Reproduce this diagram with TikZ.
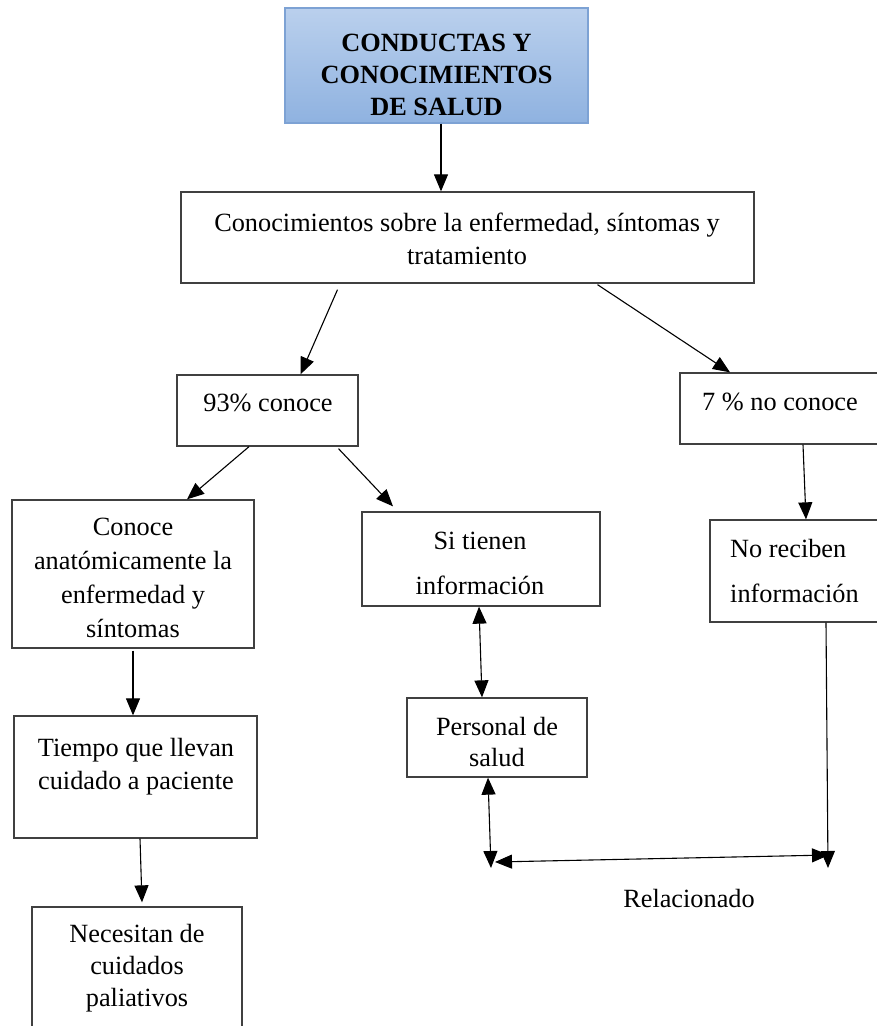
\documentclass[tikz,border=0pt]{standalone}
\usepackage{fontspec}
\setmainfont{Liberation Serif}
\usetikzlibrary{arrows.meta}
\definecolor{edge}{RGB}{64,64,64}
\definecolor{titletop}{RGB}{186,208,237}
\definecolor{titlebot}{RGB}{143,178,224}
\definecolor{titleedge}{RGB}{125,162,212}
\begin{document}
\begin{tikzpicture}[x=1pt,y=-1pt,
  box/.style={draw=edge,line width=1.3pt,inner sep=0pt,fill=white},
  txt/.style={inner sep=0pt,align=center,font=\fontsize{26.3}{#1}\selectfont},
  arr/.style={-{Triangle[length=17pt,width=14pt]},line width=1.1pt,draw=black},
  dbl/.style={{Triangle[length=17pt,width=14pt]}-{Triangle[length=17pt,width=14pt]},line width=1.1pt,draw=black}
]
\useasboundingbox (0,0) rectangle (876,1026);

% boxes
\node[draw=titleedge,line width=1.3pt,top color=titletop,bottom color=titlebot,
      minimum width=303pt,minimum height=115pt,inner sep=0pt] (T) at (436.5,65.5) {};
\node[box,minimum width=573pt,minimum height=91pt] (B2) at (467.5,237.5) {};
\node[box,minimum width=181pt,minimum height=71pt] (P93) at (267.5,410.5) {};
\node[box,minimum width=210pt,minimum height=71pt] (P7) at (785,408.5) {};
\node[box,minimum width=242pt,minimum height=148pt] (CA) at (133,574) {};
\node[box,minimum width=238pt,minimum height=94pt] (ST) at (481,559) {};
\node[box,minimum width=180pt,minimum height=102pt] (NR) at (800,571) {};
\node[box,minimum width=180pt,minimum height=79pt] (PS) at (497,737.5) {};
\node[box,minimum width=243pt,minimum height=122pt] (TQ) at (135.5,777) {};
\node[box,minimum width=210pt,minimum height=133pt] (NC) at (137,973.5) {};

% texts
\node[txt=32,font=\fontsize{26.3}{32}\selectfont\bfseries] (Tt) at (436.5,74.5)
  {CONDUCTAS Y\\CONOCIMIENTOS\\DE SALUD};
\node[txt=33] (B2t) at (467,239) {Conocimientos sobre la enfermedad, síntomas y\\tratamiento};
\node[txt=30] (P93t) at (268,403) {93\% conoce};
\node[txt=30] (P7t) at (780,402) {7 \% no conoce};
\node[txt=34] (CAt) at (133,578) {Conoce\\anatómicamente la\\enfermedad y\\síntomas};
\node[txt=45] (STt) at (480,563) {Si tienen\\información};
\node[txt=45,align=left,anchor=west] (NRt) at (730,571) {No reciben\\información};
\node[txt=31] (PSt) at (497,742) {Personal de\\salud};
\node[txt=33] (TQt) at (136,767) {Tiempo que llevan\\cuidado a paciente};
\node[txt=32] (NCt) at (137,968) {Necesitan de\\cuidados\\paliativos};
\node[txt=30] (rel) at (689,898) {Relacionado};

% junction points of the bottom connector
\coordinate (jl) at (491,868);
\coordinate (jh) at (495,862);
\coordinate (jr) at (829,855);
\coordinate (jd) at (828,868);

% connectors
\draw[arr] ([xshift=4.5pt]T.south) -- ([xshift=-26.5pt]B2.north);
\draw[arr] ([xshift=-130pt,yshift=-6pt]B2.south) -- ([xshift=33pt]P93.north);
\draw[arr] ([xshift=130pt,yshift=-1pt]B2.south) -- ([xshift=-55pt]P7.north);
\draw[arr] ([xshift=-18.5pt]P93.south) -- ([xshift=54pt]CA.north);
\draw[arr] ([xshift=71pt,yshift=-2pt]P93.south) -- ([xshift=-88pt,yshift=5pt]ST.north);
\draw[arr] ([xshift=18pt]P7.south) -- ([xshift=6pt]NR.north);
\draw[arr] ([yshift=-2pt]CA.south) -- ([xshift=-2.5pt]TQ.north);
\draw[arr] ([xshift=4.5pt]TQ.south) -- ([xshift=5pt,yshift=4pt]NC.north);
\draw[dbl] ([xshift=-2pt]ST.south) -- ([xshift=-15pt]PS.north);
\draw[dbl] ([xshift=-9pt]PS.south) -- (jl);
\draw[dbl] (jh) -- (jr);
\draw[arr] ([xshift=26pt]NR.south) -- (jd);
\end{tikzpicture}
\end{document}
